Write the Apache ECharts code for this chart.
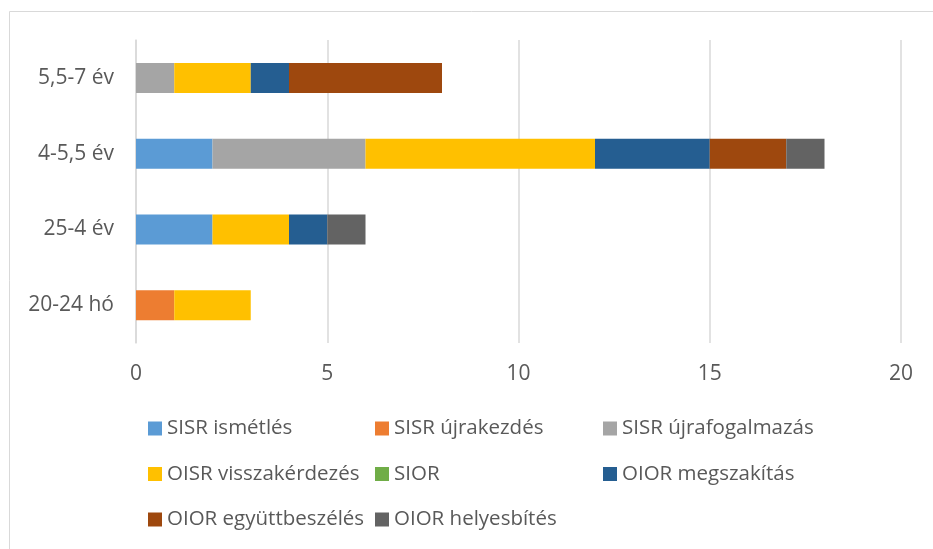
<!DOCTYPE html>
<html>
<head>
<meta charset="utf-8">
<script src="https://cdn.jsdelivr.net/npm/echarts@6/dist/echarts.min.js"></script>
<style>
	html, body { margin: 0; padding: 0; background: #fff; }
	#chart { width: 933px; height: 549px; }
</style>
</head>
<body>
<div id="chart"></div>
<script>
// 카테고리 (아래에서 위로)
let categories = ['20-24 hó', '25-4 év', '4-5,5 év', '5,5-7 év'];
// 시리즈 이름
let seriesNames = ['SISR ismétlés', 'SISR újrakezdés', 'SISR újrafogalmazás',
	'OISR visszakérdezés', 'SIOR', 'OIOR megszakítás',
	'OIOR együttbeszélés', 'OIOR helyesbítés'];
// 시리즈 값
let sisrIsmetles = [0, 2, 2, 0];
let sisrUjrakezdes = [1, 0, 0, 0];
let sisrUjrafogalmazas = [0, 0, 4, 1];
let oisrVisszakerdezes = [2, 2, 6, 2];
let sior = [0, 0, 0, 0];
let oiorMegszakitas = [0, 1, 3, 1];
let oiorEgyuttbeszeles = [0, 0, 2, 4];
let oiorHelyesbites = [0, 1, 1, 0];
let xTicks = [0, 5, 10, 15, 20];

let colors = ['#5B9BD5', '#ED7D31', '#A5A5A5', '#FFC000', '#70AD47', '#255E91', '#9E480E', '#636363'];
let values = [sisrIsmetles, sisrUjrakezdes, sisrUjrafogalmazas, oisrVisszakerdezes,
	sior, oiorMegszakitas, oiorEgyuttbeszeles, oiorHelyesbites];

let font = 'Open Sans';
let textColor = '#595959';

let series = [];
for(let i = 0; i < seriesNames.length; i++){
	series.push({
		name: seriesNames[i],
		type: 'bar',
		stack: 'total',
		barWidth: 30,
		itemStyle: { color: colors[i] },
		data: values[i]
	});
}

// 범례 한 열씩 만드는 함수
function legendCol(left, names){
	return {
		orient: 'vertical',
		left: left,
		top: 413,
		itemWidth: 14,
		itemHeight: 14,
		itemGap: 24.5,
		icon: 'rect',
		textStyle: { fontFamily: font, fontSize: 20.5, color: textColor, lineHeight: 21 },
		data: names
	};
}

var myChart = echarts.init(document.getElementById('chart'));
var option = {
	animation: false,
	color: colors,
	graphic: [{
		type: 'rect',
		shape: { x: 9.5, y: 11.5, width: 940, height: 560 },
		style: { fill: 'none', stroke: '#d9d9d9', lineWidth: 1 }
	}],
	legend: [
		legendCol(143, [seriesNames[0], seriesNames[3], seriesNames[6]]),
		legendCol(370, [seriesNames[1], seriesNames[4], seriesNames[7]]),
		legendCol(598, [seriesNames[2], seriesNames[5]])
	],
	grid: { left: 136, right: 32, top: 40, bottom: 206 },
	xAxis: {
		type: 'value',
		min: xTicks[0],
		max: xTicks[xTicks.length - 1],
		interval: 5,
		axisLine: { show: false },
		axisTick: { show: false },
		axisLabel: { fontFamily: font, fontSize: 21, color: textColor, margin: 21 },
		splitLine: { lineStyle: { color: '#d9d9d9', width: 1.5 } }
	},
	yAxis: {
		type: 'category',
		data: categories,
		axisLine: { lineStyle: { color: '#d9d9d9', width: 1.5 } },
		axisTick: { show: false },
		axisLabel: { fontFamily: font, fontSize: 21, color: textColor, margin: 22 }
	},
	series: series
};
myChart.setOption(option);
</script>
</body>
</html>
